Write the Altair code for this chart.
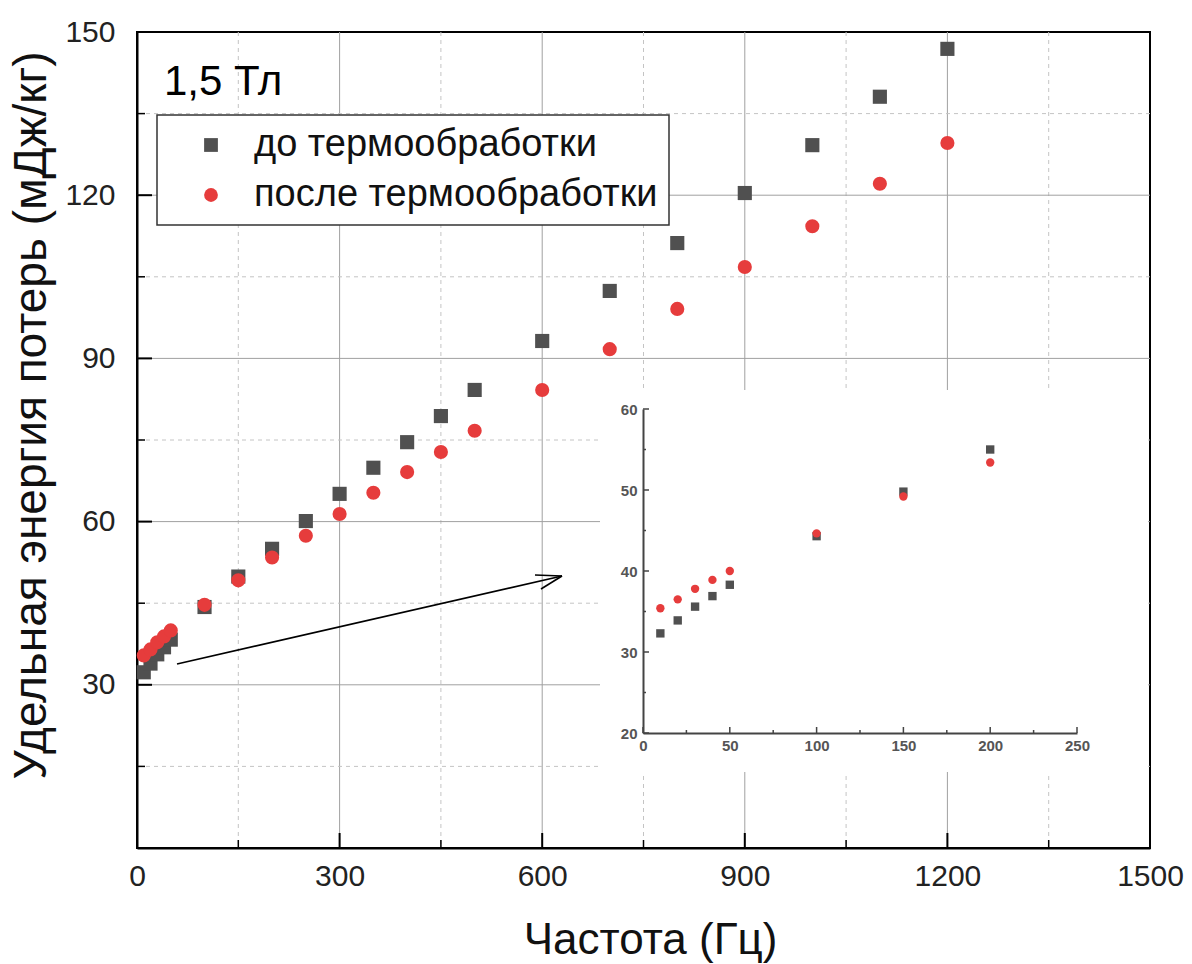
import altair as alt
import pandas as pd

# ---- data ----
series = ["до термообработки", "после термообработки"]
freq = [10, 20, 30, 40, 50, 100, 150, 200, 250, 300, 350, 400, 450, 500,
        600, 700, 800, 900, 1000, 1100, 1200]
before = [32.3, 33.9, 35.6, 36.9, 38.3, 44.3, 49.9, 55.0, 60.1, 65.1, 69.9,
          74.6, 79.4, 84.2, 93.2, 102.4, 111.2, 120.4, 129.2, 138.1, 146.9]
after = [35.4, 36.5, 37.8, 38.9, 40.0, 44.7, 49.2, 53.4, 57.4, 61.4, 65.3,
         69.1, 72.8, 76.7, 84.2, 91.7, 99.1, 106.8, 114.3, 122.1, 129.6]

inset_freq = [10, 20, 30, 40, 50, 100, 150, 200]
inset_before = [32.3, 33.9, 35.6, 36.9, 38.3, 44.3, 49.8, 55.0]
inset_after = [35.4, 36.5, 37.8, 38.9, 40.0, 44.65, 49.2, 53.4]

x_major = [0, 300, 600, 900, 1200, 1500]
x_minor = [150, 450, 750, 1050, 1350]
y_labels = [30, 60, 90, 120, 150]
y_major = [0, 30, 60, 90, 120, 150]
y_minor = [15, 45, 75, 105, 135]
grid_x_solid = [300, 600, 900, 1200]
grid_y_solid = [30, 60, 90, 120]

inset_x_major = [0, 50, 100, 150, 200, 250]
inset_x_minor = [25, 75, 125, 175, 225]
inset_y_major = [20, 30, 40, 50, 60]
inset_y_minor = [25, 35, 45, 55]

annotation = "1,5 Тл"
x_title = "Частота (Гц)"
y_title = "Удельная энергия потерь (мДж/кг)"

# ---- tables ----
df_main = pd.DataFrame({
    "f": freq + freq,
    "v": before + after,
    "s": [series[0]] * len(freq) + [series[1]] * len(freq),
})
df_inset = pd.DataFrame({
    "f": inset_freq + inset_freq,
    "v": inset_before + inset_after,
    "s": [series[0]] * len(inset_freq) + [series[1]] * len(inset_freq),
})

FONT = "Liberation Sans"
W, H = 1013, 816
colors = ["#505050", "#e63c3c"]

xs = alt.Scale(domain=[0, 1500], nice=False, zero=False)
ys = alt.Scale(domain=[0, 150], nice=False, zero=False)
cs = alt.Scale(domain=series, range=colors)
ss = alt.Scale(domain=series, range=["square", "circle"])

x_axis = alt.Axis(
    values=x_major, format="d", title=x_title, grid=False, ticks=False, tickSize=0,
    labelFontSize=30, labelFont=FONT, labelColor="#222", labelPadding=13,
    labelFlush=False, domainColor="black", domainWidth=2,
    titleFont=FONT, titleFontSize=44, titleFontWeight="normal", titleColor="#111",
    titleX=513, titleY=92, titleAlign="center", titleBaseline="middle")
y_axis = alt.Axis(
    values=y_labels, format="d", title=y_title, grid=False, ticks=False, tickSize=0,
    labelFontSize=30, labelFont=FONT, labelColor="#222", labelPadding=22,
    labelFlush=False, domainColor="black", domainWidth=2,
    titleFont=FONT, titleFontSize=46, titleFontWeight="normal", titleColor="#111",
    titleX=-106, titleY=383, titleAngle=270, titleAlign="center", titleBaseline="middle")

IX0, IX1, IY0, IY1 = 506, 940, 701, 377
ixs = alt.Scale(domain=[0, 250], range=[IX0, IX1], nice=False, zero=False)
iys = alt.Scale(domain=[20, 60], range=[IY0, IY1], nice=False, zero=False)
ix_axis = alt.Axis(
    orient="bottom", offset=-(H - IY0), values=inset_x_major, format="d", title=None,
    grid=False, ticks=False, tickSize=0, labelFontSize=15, labelFont=FONT,
    labelFontWeight="bold", labelColor="#555", labelPadding=5, labelFlush=False,
    domainColor="#444", domainWidth=2, zindex=2)
iy_axis = alt.Axis(
    orient="left", offset=-IX0, values=inset_y_major, format="d", title=None,
    grid=False, ticks=False, tickSize=0, labelFontSize=15, labelFont=FONT,
    labelFontWeight="bold", labelColor="#555", labelPadding=6, labelFlush=False,
    domainColor="#444", domainWidth=2, zindex=2)


def MX(field="v"):
    return alt.X(f"{field}:Q", scale=xs, axis=x_axis)


def MY(field="v"):
    return alt.Y(f"{field}:Q", scale=ys, axis=y_axis)


def IX(field="v"):
    return alt.X(f"{field}:Q", scale=ixs, axis=ix_axis)


def IY(field="v"):
    return alt.Y(f"{field}:Q", scale=iys, axis=iy_axis)


legend = alt.Legend(title=None, orient="none", legendX=20, legendY=83)

one = pd.DataFrame({"a": [0]})


def vals(v):
    return pd.DataFrame({"v": v})


grid_xs = alt.Chart(vals(grid_x_solid)).mark_rule(color="#a0a0a0", strokeWidth=1).encode(x=MX())
grid_xd = alt.Chart(vals(x_minor)).mark_rule(color="#c4c4c4", strokeWidth=1, strokeDash=[4, 4]).encode(x=MX())
grid_ys = alt.Chart(vals(grid_y_solid)).mark_rule(color="#a0a0a0", strokeWidth=1).encode(y=MY())
grid_yd = alt.Chart(vals(y_minor)).mark_rule(color="#c4c4c4", strokeWidth=1, strokeDash=[4, 4]).encode(y=MY())

# white background of the inset
inset_bg = alt.Chart(one).mark_rect(color="white").encode(
    x=alt.value(463), x2=alt.value(1011), y=alt.value(358), y2=alt.value(740))

# inward ticks of the main axes
tx_major = alt.Chart(vals(x_major)).mark_rule(color="black", strokeWidth=2).encode(
    x=MX(), y=alt.value(H), y2=alt.value(H - 15))
tx_minor = alt.Chart(vals(x_minor)).mark_rule(color="black", strokeWidth=1.5).encode(
    x=MX(), y=alt.value(H), y2=alt.value(H - 8))
ty_major = alt.Chart(vals(y_major)).mark_rule(color="black", strokeWidth=2).encode(
    y=MY(), x=alt.value(0), x2=alt.value(15))
ty_minor = alt.Chart(vals(y_minor)).mark_rule(color="black", strokeWidth=1.5).encode(
    y=MY(), x=alt.value(0), x2=alt.value(8))

# arrow pointing to the inset
arrow_line = alt.Chart(one).mark_rule(color="black", strokeWidth=1.6).encode(
    x=alt.value(40), y=alt.value(632), x2=alt.value(425), y2=alt.value(544))
arrow_w1 = alt.Chart(one).mark_rule(color="black", strokeWidth=1.6).encode(
    x=alt.value(398), y=alt.value(543), x2=alt.value(425), y2=alt.value(544))
arrow_w2 = alt.Chart(one).mark_rule(color="black", strokeWidth=1.6).encode(
    x=alt.value(404), y=alt.value(557), x2=alt.value(425), y2=alt.value(544))

label = alt.Chart(one).mark_text(
    text=annotation, font=FONT, fontSize=42, align="left", baseline="alphabetic", color="black"
).encode(x=alt.value(27), y=alt.value(63))

points = alt.Chart(df_main).mark_point(filled=True, opacity=1, size=200, strokeWidth=0).encode(
    x=MX("f"), y=MY("v"),
    color=alt.Color("s:N", scale=cs, legend=legend),
    shape=alt.Shape("s:N", scale=ss, legend=legend),
)

main = alt.layer(grid_xs, grid_xd, grid_ys, grid_yd, inset_bg,
                 tx_major, tx_minor, ty_major, ty_minor,
                 arrow_line, arrow_w1, arrow_w2, label, points)

# ---- inset ----
inset_pts = alt.Chart(df_inset).mark_point(filled=True, opacity=1, size=70, strokeWidth=0).encode(
    x=IX("f"), y=IY("v"),
    color=alt.Color("s:N", scale=cs, legend=None),
    shape=alt.Shape("s:N", scale=ss, legend=None),
)
itx_major = alt.Chart(vals(inset_x_major)).mark_rule(color="#444", strokeWidth=1.5).encode(
    x=IX(), y=alt.value(IY0), y2=alt.value(IY0 - 6))
itx_minor = alt.Chart(vals(inset_x_minor)).mark_rule(color="#444", strokeWidth=1.5).encode(
    x=IX(), y=alt.value(IY0), y2=alt.value(IY0 - 3))
ity_major = alt.Chart(vals(inset_y_major)).mark_rule(color="#444", strokeWidth=1.5).encode(
    y=IY(), x=alt.value(IX0), x2=alt.value(IX0 + 6))
ity_minor = alt.Chart(vals(inset_y_minor)).mark_rule(color="#444", strokeWidth=1.5).encode(
    y=IY(), x=alt.value(IX0), x2=alt.value(IX0 + 3))

inset = alt.layer(itx_major, itx_minor, ity_major, ity_minor, inset_pts)

chart = alt.layer(main, inset).resolve_scale(
    x="independent", y="independent"
).resolve_axis(
    x="independent", y="independent"
).properties(
    width=W, height=H,
    padding={"left": 137, "top": 32, "right": 42, "bottom": 116},
    autosize=alt.AutoSizeParams(type="none"),
    background="white",
).configure_view(
    stroke="black", strokeWidth=2
).configure_legend(
    fillColor="white", strokeColor="#333", strokeWidth=1.5, padding=11,
    symbolOffset=24, labelOffset=24, labelFontSize=38, labelFont=FONT,
    labelColor="#111", symbolSize=190, symbolStrokeWidth=0, rowPadding=12,
    labelLimit=0,
)

chart.save("out.html", embed_options={"renderer": "svg", "actions": False})
